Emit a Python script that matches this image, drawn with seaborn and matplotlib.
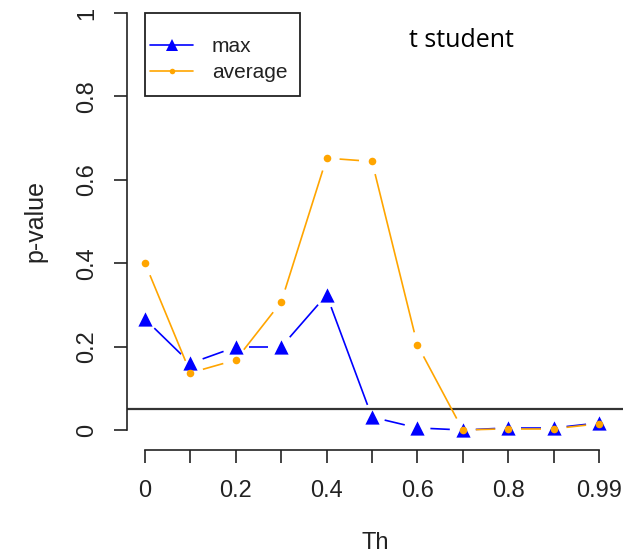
import matplotlib
matplotlib.use("Agg")
import matplotlib.pyplot as plt
from matplotlib.lines import Line2D
from matplotlib.patches import Rectangle
import numpy as np
import seaborn as sns

# Threshold categories (equally spaced on the x axis)
th_labels = ["0", "0.1", "0.2", "0.3", "0.4", "0.5", "0.6", "0.7", "0.8", "0.9", "0.99"]
# p-values per threshold
p_max = [0.266, 0.160, 0.199, 0.199, 0.324, 0.031, 0.005, 0.0, 0.005, 0.005, 0.017]
p_avg = [0.400, 0.137, 0.168, 0.307, 0.652, 0.644, 0.204, 0.0, 0.003, 0.003, 0.015]
alpha_level = 0.05

sns.set_style("ticks")
plt.rcParams["font.family"] = ["Liberation Sans", "DejaVu Sans"]

W, H = 628, 559
fig = plt.figure(figsize=(W / 100, H / 100), dpi=100)
ax = fig.add_axes([127 / W, (H - 447) / H, (623 - 127) / W, 447 / H])

x = np.arange(len(th_labels))
px_per_x = 45.4
px_per_y = 417.0
ax.set_xlim(-18 / px_per_x, 10 + 24 / px_per_x)
ax.set_ylim(-17 / px_per_y, 1 + 13 / px_per_y)

BLUE = "#0000FF"
ORANGE = "#FFA500"


def gapped_segments(ax, xs, ys, color, gap_px=13, lw=1.2):
    """Connect points like R's type='b': segments stop short of each point."""
    pts = ax.transData.transform(np.column_stack([xs, ys]))
    inv = ax.transData.inverted()
    for p0, p1 in zip(pts[:-1], pts[1:]):
        d = p1 - p0
        L = np.hypot(*d)
        if L <= 2 * gap_px:
            continue
        u = d / L
        a = inv.transform(p0 + u * gap_px)
        b = inv.transform(p1 - u * gap_px)
        ax.plot([a[0], b[0]], [a[1], b[1]], color=color, lw=lw,
                solid_capstyle="butt", zorder=2)


fig.canvas.draw()

# max series
gapped_segments(ax, x, p_max, BLUE)
sns.scatterplot(x=x, y=p_max, marker="^", s=105, color=BLUE, edgecolor=BLUE,
                linewidth=0, ax=ax, zorder=3, legend=False)
# average series
gapped_segments(ax, x, p_avg, ORANGE)
sns.scatterplot(x=x, y=p_avg, marker="o", s=30, color=ORANGE, edgecolor=ORANGE,
                linewidth=0, ax=ax, zorder=4, legend=False)

# significance line
ax.axhline(alpha_level, color="#333333", lw=1.6, zorder=1)

# R-style detached axes
for side in ("top", "right"):
    ax.spines[side].set_visible(False)
ax.spines["left"].set_bounds(0, 1)
ax.spines["bottom"].set_bounds(0, 10)
ax.spines["bottom"].set_position(("outward", 2))
for side in ("left", "bottom"):
    ax.spines[side].set_linewidth(1.2)
    ax.spines[side].set_color("#222222")

ax.set_xticks(x)
ax.set_xticklabels([l if i % 2 == 0 else "" for i, l in enumerate(th_labels)])
ax.set_yticks([0, 0.2, 0.4, 0.6, 0.8, 1])
ax.set_yticklabels(["0", "0.2", "0.4", "0.6", "0.8", "1"])
ax.tick_params(axis="both", length=9.5, width=1.2, color="#222222",
               labelsize=17, labelcolor="#222222")
ax.tick_params(axis="x", pad=12)
ax.tick_params(axis="y", pad=11, labelrotation=90)
for t in ax.get_yticklabels():
    t.set_va("center")

ax.set_xlabel("")
ax.set_ylabel("")
fig.text(375 / W, 1 - 543 / H, "Th", ha="center", va="center",
         fontsize=17, color="#222222")
fig.text(35 / W, 1 - 221 / H, "p-value", ha="center", va="center",
         rotation=90, fontsize=18, color="#222222")

# legend
handles = [
    Line2D([], [], color=BLUE, lw=1.2, marker="^", markersize=8, markeredgewidth=0),
    Line2D([], [], color=ORANGE, lw=1.2, marker="o", markersize=4, markeredgewidth=0),
]
leg = ax.legend(handles, ["max", "average"], loc="upper left",
                bbox_to_anchor=(150 / W, 1 - 37 / H), bbox_transform=fig.transFigure,
                frameon=False, borderpad=0, borderaxespad=0, fontsize=15,
                handlelength=2.07, handletextpad=0.9, labelspacing=0.36)
for t in leg.get_texts():
    t.set_color("#222222")
fig.add_artist(Rectangle((145 / W, 1 - 96 / H), 155 / W, 83 / H,
                         transform=fig.transFigure, fill=False,
                         lw=1.3, ec="#222222"))

fig.text(461 / W, 1 - 47 / H, "t student", ha="center", va="baseline",
         fontsize=18, family="Open Sans", color="black")

fig.savefig("out.png", dpi=100)
